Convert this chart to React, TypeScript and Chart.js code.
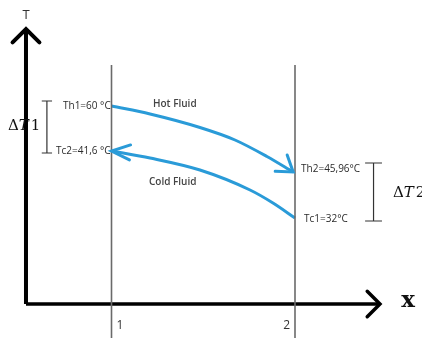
import React, { useEffect, useRef } from "react";
import { Chart, registerables } from "chart.js";

Chart.register(...registerables);

// Schematic units: x = position along the exchanger (stations 1 and 2),
// y = temperature level (schematic, not to scale).
const stations = [1, 2];
const stationLabels = ["1", "2"];
const stationTop = 95.6;
const stationBottom = -14;

const originX = 0.534;
const originY = 0;
const xAxisEnd = 2.463;
const yAxisEnd = 110;

// hot fluid flows from station 1 to station 2
const hotX = [1, 1.21, 1.482, 1.673, 1.847, 1.99];
const hotY = [79.2, 76, 70.6, 65.6, 59, 52.8];

// cold fluid flows from station 2 back to station 1 (listed left to right)
const coldX = [1.0, 1.21, 1.482, 1.755, 1.88, 2.0];
const coldY = [61.2, 58.4, 53.6, 45.6, 40.4, 34.4];

const dT1X = 0.648;
const dT1Range = [81.2, 60.4];
const dT2X = 2.428;
const dT2Range = [56.4, 33.2];

const pointTexts = ["Th1=60 °C", "Tc2=41,6 °C", "Th2=45,96°C", "Tc1=32°C"];
const pointTextX = [0.7357, 0.6975, 2.033, 2.049];
const pointTextY = [79.2, 61.2, 54, 34];

const fluidTexts = ["Hot Fluid", "Cold Fluid"];
const fluidTextX = [1.226, 1.204];
const fluidTextY = [80, 48.8];

const axisTitles = ["T", "x"];

const BLUE = "#2a9bd8";
const SANS = "'Open Sans', 'Noto Sans', sans-serif";
const SERIF = "'DejaVu Serif', 'Liberation Serif', serif";

const xPx = (chart: any, v: number) => chart.scales.x.getPixelForValue(v);
const yPx = (chart: any, v: number) => chart.scales.y.getPixelForValue(v);

const arrowPlugin = {
  id: "arrows",
  afterDatasetsDraw(chart: any) {
    const ctx = chart.ctx;
    chart.data.datasets.forEach((ds: any, i: number) => {
      const a = ds.arrow;
      if (!a) return;
      const pts = chart.getDatasetMeta(i).data;
      const n = pts.length;
      const atStart = a.at === "start";
      const tip = atStart ? pts[0] : pts[n - 1];
      const prev = atStart ? pts[1] : pts[n - 2];
      const ang = Math.atan2(prev.y - tip.y, prev.x - tip.x) + ((a.rot || 0) * Math.PI) / 180;
      const s = (a.spread * Math.PI) / 180;
      ctx.save();
      ctx.strokeStyle = ds.borderColor;
      ctx.lineWidth = ds.borderWidth;
      ctx.lineCap = a.cap || "round";
      ctx.lineJoin = "miter";
      ctx.beginPath();
      ctx.moveTo(tip.x + a.len * Math.cos(ang + s), tip.y + a.len * Math.sin(ang + s));
      ctx.lineTo(tip.x, tip.y);
      ctx.lineTo(tip.x + a.len * Math.cos(ang - s), tip.y + a.len * Math.sin(ang - s));
      ctx.stroke();
      ctx.restore();
    });
  },
};

const textPlugin = {
  id: "texts",
  afterDraw(chart: any) {
    const ctx = chart.ctx;
    ctx.save();
    ctx.textBaseline = "middle";

    // point annotations
    ctx.fillStyle = "#2b2b2b";
    ctx.font = `10px ${SANS}`;
    ctx.textAlign = "left";
    pointTexts.forEach((t, i) => {
      ctx.fillText(t, xPx(chart, pointTextX[i]), yPx(chart, pointTextY[i]));
    });

    // fluid names
    ctx.fillStyle = "#444";
    ctx.font = `600 10px ${SANS}`;
    fluidTexts.forEach((t, i) => {
      ctx.fillText(t, xPx(chart, fluidTextX[i]), yPx(chart, fluidTextY[i]));
    });

    // station labels
    ctx.fillStyle = "#333";
    ctx.font = `12px ${SANS}`;
    ctx.textAlign = "left";
    ctx.fillText(stationLabels[0], xPx(chart, stations[0]) + 5, yPx(chart, -8.8));
    ctx.textAlign = "right";
    ctx.fillText(stationLabels[1], xPx(chart, stations[1]) - 5, yPx(chart, -8.8));

    // axis titles
    ctx.textAlign = "center";
    ctx.fillStyle = "#333";
    ctx.font = `13px ${SANS}`;
    ctx.fillText(axisTitles[0], xPx(chart, originX), yPx(chart, 115.6));
    ctx.fillStyle = "#111";
    ctx.font = `bold 23px ${SERIF}`;
    ctx.fillText(axisTitles[1], xPx(chart, 2.6158), yPx(chart, 1.2));

    // delta T labels
    const drawDelta = (x: number, y: number, idx: string) => {
      let px = x;
      ctx.textAlign = "left";
      ctx.fillStyle = "#111";
      ctx.font = `15px ${SERIF}`;
      ctx.fillText("Δ", px, y);
      px += ctx.measureText("Δ").width;
      ctx.font = `italic 15px ${SERIF}`;
      ctx.fillText("T", px, y);
      px += ctx.measureText("T").width + 2;
      ctx.font = `15px ${SERIF}`;
      ctx.fillText(idx, px, y);
    };
    drawDelta(xPx(chart, 0.436), yPx(chart, 71.2), "1");
    drawDelta(xPx(chart, 2.534), yPx(chart, 44.4), "2");

    ctx.restore();
  },
};

const line = (data: any[], color: string, width: number, extra: any = {}) => ({
  data,
  showLine: true,
  borderColor: color,
  backgroundColor: color,
  borderWidth: width,
  pointRadius: 0,
  pointHoverRadius: 0,
  fill: false,
  tension: 0,
  ...extra,
});

const bracket = (x: number, range: number[], half: number) => [
  { x: x - half, y: range[0] },
  { x: x + half, y: range[0] },
  { x, y: range[0] },
  { x, y: range[1] },
  { x: x - half, y: range[1] },
  { x: x + half, y: range[1] },
];

export default function App() {
  const ref = useRef<HTMLCanvasElement | null>(null);

  useEffect(() => {
    if (!ref.current) return;
    const datasets: any[] = [
      ...stations.map((s) =>
        line(
          [
            { x: s, y: stationBottom },
            { x: s, y: stationTop },
          ],
          "#6a6a6a",
          1.6
        )
      ),
      line(bracket(dT1X, dT1Range, 0.028), "#333", 1.2),
      line(bracket(dT2X, dT2Range, 0.046), "#333", 1.2),
      line(
        [
          { x: originX, y: originY },
          { x: originX, y: yAxisEnd },
        ],
        "#000",
        4,
        { arrow: { len: 19, spread: 45, cap: "round" } }
      ),
      line(
        [
          { x: originX, y: originY },
          { x: xAxisEnd, y: originY },
        ],
        "#000",
        3.5,
        { arrow: { len: 18, spread: 45, cap: "round" } }
      ),
      line(
        hotX.map((x, i) => ({ x, y: hotY[i] })),
        BLUE,
        3,
        { tension: 0.4, cubicInterpolationMode: "monotone", arrow: { len: 18, spread: 34, rot: 6 } }
      ),
      line(
        coldX.map((x, i) => ({ x, y: coldY[i] })),
        BLUE,
        3,
        { tension: 0.4, cubicInterpolationMode: "monotone", arrow: { at: "start", len: 20, spread: 22, rot: -6 } }
      ),
    ];

    const chart = new Chart(ref.current, {
      type: "scatter",
      data: { datasets },
      options: {
        animation: false,
        responsive: false,
        maintainAspectRatio: false,
        devicePixelRatio: 1,
        layout: { padding: 0 },
        events: [],
        plugins: { legend: { display: false }, tooltip: { enabled: false } },
        scales: {
          x: { type: "linear", display: false, min: 1 - 111.5 / 183.5, max: 1 + 310.5 / 183.5 },
          y: { type: "linear", display: false, min: -13.6, max: 121.6 },
        },
      },
      plugins: [arrowPlugin, textPlugin],
    } as any);
    return () => chart.destroy();
  }, []);

  return (
    <div style={{ position: "fixed", left: 0, top: 0, width: 422, height: 338, background: "#fff" }}>
      <canvas ref={ref} width={422} height={338} style={{ display: "block", width: 422, height: 338 }} />
    </div>
  );
}
